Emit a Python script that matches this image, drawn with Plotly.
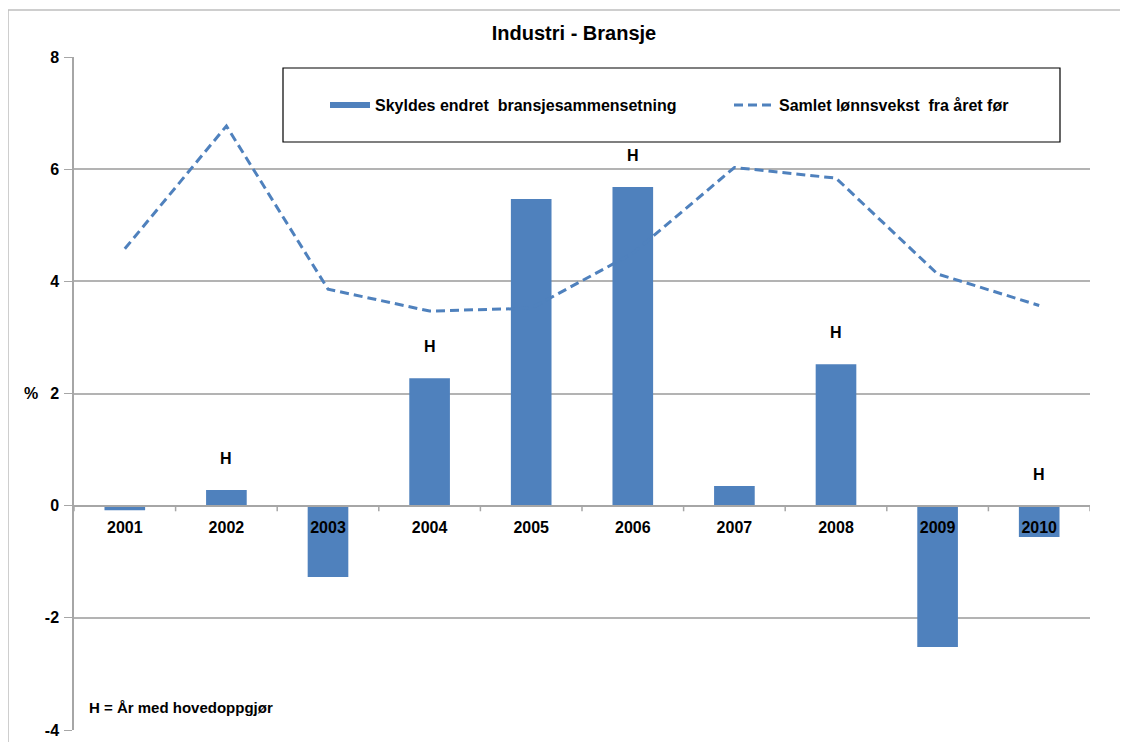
import plotly.graph_objects as go

years = ["2001", "2002", "2003", "2004", "2005", "2006", "2007", "2008", "2009", "2010"]
bransje = [-0.08, 0.28, -1.27, 2.27, 5.47, 5.68, 0.35, 2.52, -2.52, -0.56]
lonnsvekst = [4.58, 6.77, 3.86, 3.47, 3.52, 4.5, 6.03, 5.84, 4.13, 3.57]
h_years = ["2002", "2004", "2006", "2008", "2010"]
y_ticks = [-4, -2, 0, 2, 4, 6, 8]

BLUE = "#4F81BD"
FONT = "Liberation Sans, Arial, sans-serif"
OFF = 8  # page body margin
W, H = 1128 - OFF, 742 - OFF
L, R, T, B = 74 - OFF, 38, 57 - OFF, 12

pw, ph = W - L - R, H - T - B
def px(x):
    return (x - OFF - L) / pw
def py(y):
    return (H - B - (y - OFF)) / ph

fig = go.Figure()
fig.add_trace(go.Bar(x=list(range(len(years))), y=bransje, marker=dict(color=BLUE, line=dict(width=0)),
                     width=0.4, showlegend=False, name="Skyldes endret bransjesammensetning"))
# legend entry for bars (wide thin swatch)
fig.add_trace(go.Scatter(x=[None], y=[None], mode="lines", line=dict(color=BLUE, width=6),
                         name="<b>Skyldes endret  bransjesammensetning</b>", legend="legend"))
fig.add_trace(go.Scatter(x=list(range(len(years))), y=lonnsvekst, mode="lines",
                         line=dict(color=BLUE, width=3, dash="9px,5px"),
                         name="<b>Samlet lønnsvekst  fra året før</b>", legend="legend2"))

for yr in h_years:
    i = years.index(yr)
    v = bransje[i]
    fig.add_annotation(x=i, y=max(v, 0), text="<b>H</b>", showarrow=False,
                       yanchor="bottom", yshift=21, font=dict(size=16, color="black", family=FONT))

ymin, ymax = -4, 8
zero_frac = (0 - ymin) / (ymax - ymin)

leg_common = dict(orientation="h", xanchor="left", yanchor="middle", y=py(105),
                  bgcolor="rgba(0,0,0,0)", borderwidth=0, itemwidth=40,
                  font=dict(size=16, family=FONT, color="black"))

fig.update_layout(
    width=W, height=H,
    margin=dict(l=L, r=R, t=T, b=B, autoexpand=False),
    plot_bgcolor="white", paper_bgcolor="white",
    font=dict(family=FONT, size=16, color="black"),
    title=dict(text="<b>Industri - Bransje</b>", x=px(574), xref="paper",
               xanchor="center", y=1 - (33 - OFF) / H, yanchor="middle",
               font=dict(size=20, family=FONT, color="black")),
    showlegend=True,
    legend=dict(x=px(325), **leg_common),
    legend2=dict(x=px(729), **leg_common),
    xaxis=dict(anchor="free", position=zero_frac, automargin=False,
               showline=True, linecolor="#a6a6a6", linewidth=1.5,
               tickvals=list(range(len(years))), ticktext=["<b>%s</b>" % y for y in years],
               ticks="", ticklabelstandoff=7, showgrid=False,
               tickfont=dict(size=16, family=FONT, color="black"),
               range=[-0.5, len(years) - 0.5], zeroline=False),
    yaxis=dict(range=[ymin, ymax], tickvals=y_ticks, ticktext=["<b>%d</b>" % t for t in y_ticks],
               automargin=False, showgrid=True, gridcolor="#b3b3b3",
               gridwidth=1.5, showline=True, linecolor="#a6a6a6", linewidth=1.5,
               ticks="outside", ticklen=8, tickcolor="#a6a6a6", zeroline=False,
               ticklabelstandoff=2,
               tickfont=dict(size=16, family=FONT, color="black")),
)

# category boundary tick marks on the zero line
for k in range(len(years) + 1):
    fig.add_shape(type="line", xref="x", yref="y", x0=k - 0.5, x1=k - 0.5, y0=0, y1=-0.1,
                  line=dict(color="#a6a6a6", width=1.5))

# outer chart frame
fig.add_shape(type="rect", xref="paper", yref="paper", x0=px(8), x1=px(1140), y0=py(760), y1=py(10),
              line=dict(color="#bfbfbf", width=1.5), fillcolor="rgba(0,0,0,0)", layer="below")
# legend box
fig.add_shape(type="rect", xref="paper", yref="paper", x0=px(283), x1=px(1060), y0=py(142), y1=py(68),
              line=dict(color="black", width=1.2), fillcolor="white", layer="below")

fig.add_annotation(xref="paper", yref="paper", x=px(31), y=py(393), xanchor="center", yanchor="middle",
                   text="<b>%</b>", showarrow=False,
                   font=dict(size=16, family=FONT, color="black"))
fig.add_annotation(xref="paper", yref="paper", x=px(87), y=py(707), xanchor="left", yanchor="middle",
                   text="<b>H = År med hovedoppgjør</b>", showarrow=False,
                   font=dict(size=15, family=FONT, color="black"))

fig.write_html("out.html")
